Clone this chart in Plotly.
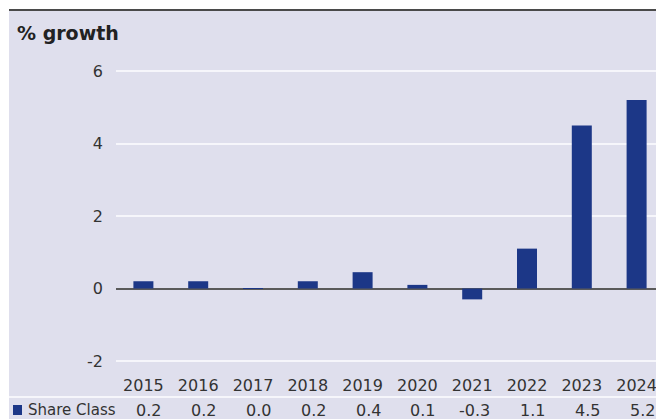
import plotly.graph_objects as go

years = ["2015", "2016", "2017", "2018", "2019", "2020", "2021", "2022", "2023", "2024"]
values = [0.2, 0.2, 0.01, 0.2, 0.45, 0.1, -0.3, 1.1, 4.5, 5.2]
labels = ["0.2", "0.2", "0.0", "0.2", "0.4", "0.1", "-0.3", "1.1", "4.5", "5.2"]
series_name = "Share Class"
y_ticks = [-2, 0, 2, 4, 6]
y_tick_text = ["-2", "0", "2", "4", "6"]

OFF = 8  # page body margin
W, H = 664 - OFF, 419 - OFF
# plot area in page pixels
PL, PR, PT, PB = 116, 664, 40, 372
L, T = PL - OFF, PT - OFF
R, B = (W + OFF) - PR, (H + OFF) - PB
PW, PH = PR - PL, PB - PT

def px_x(p):
    return (p - PL) / PW

def px_y(p):
    return (PB - p) / PH

BG = "#dfdfed"
BAR = "#1c3787"
TXT = "#333333"
FONT = "DejaVu Sans"

fig = go.Figure()
fig.add_trace(go.Bar(x=years, y=values, marker=dict(color=BAR, line=dict(width=0)),
                     name=series_name, showlegend=False, hoverinfo="skip"))

shapes = [
    dict(type="rect", xref="paper", yref="paper", x0=px_x(9), x1=px_x(664), y0=px_y(420), y1=px_y(10),
         fillcolor=BG, line=dict(width=0), layer="below"),
    dict(type="line", xref="paper", yref="paper", x0=px_x(9), x1=px_x(664), y0=px_y(10), y1=px_y(10),
         line=dict(color="#4a4a4a", width=2)),
    dict(type="line", xref="paper", yref="paper", x0=px_x(9), x1=px_x(664), y0=px_y(397), y1=px_y(397),
         line=dict(color="#f6f6fb", width=2)),
    dict(type="rect", xref="paper", yref="paper", x0=px_x(13), x1=px_x(22), y0=px_y(415), y1=px_y(405),
         fillcolor=BAR, line=dict(width=0)),
]

annotations = [
    dict(text="<b>% growth</b>", xref="paper", yref="paper", x=px_x(15), y=px_y(33),
         xanchor="left", yanchor="middle", showarrow=False, font=dict(family=FONT, size=19, color="#222222")),
    dict(text=series_name, xref="paper", yref="paper", x=px_x(26), y=px_y(410),
         xanchor="left", yanchor="middle", showarrow=False, font=dict(family=FONT, size=15, color=TXT)),
]
for i, lab in enumerate(labels):
    annotations.append(dict(text=lab, xref="x", yref="paper", x=i, y=px_y(410), xshift=20,
                            xanchor="right", yanchor="middle", showarrow=False,
                            font=dict(family=FONT, size=16, color=TXT)))

y_top = 6 + (71 - PT) / 36.25
y_bot = -2 - (PB - 361) / 36.25

fig.update_layout(
    width=W, height=H,
    margin=dict(l=L, r=R, t=T, b=B, pad=0),
    paper_bgcolor="white", plot_bgcolor="rgba(0,0,0,0)",
    bargap=0.635,
    font=dict(family=FONT, size=16, color=TXT),
    shapes=shapes, annotations=annotations,
    xaxis=dict(type="category", range=[-0.5, len(years) - 0.5], showgrid=False, zeroline=False,
               showline=False, ticks="",
               tickfont=dict(family=FONT, size=16, color=TXT), ticklabelstandoff=2),
    yaxis=dict(range=[y_bot, y_top], tickvals=y_ticks, ticktext=y_tick_text, showgrid=True,
               gridcolor="#f6f6fb", gridwidth=2,
               zeroline=True, zerolinecolor="#5a5a5a", zerolinewidth=2, showline=False, ticks="",
               tickfont=dict(family=FONT, size=16, color=TXT), ticklabelstandoff=12),
)

fig.write_html("out.html")
